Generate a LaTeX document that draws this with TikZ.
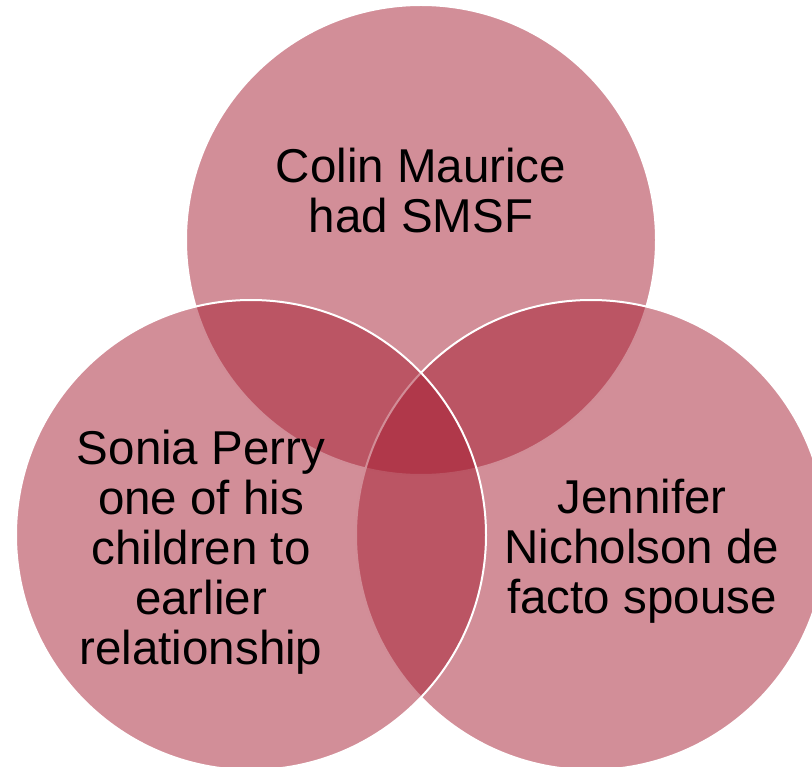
\documentclass[tikz,border=0pt]{standalone}
\usepackage{fontspec}
\setmainfont{Liberation Sans}
\definecolor{venn}{RGB}{165,29,49}
\tikzset{
  vcircle/.style={circle, fill=venn, fill opacity=0.5, draw=white, draw opacity=1, line width=2pt, minimum size=470pt, inner sep=0pt},
  vlabel/.style={align=center, text=black, inner sep=0pt, font=\fontsize{47.5}{50}\selectfont}
}
\begin{document}
\begin{tikzpicture}[x=1pt,y=-1pt]
\useasboundingbox (0,0) rectangle (812,767);
\clip (0,0) rectangle (812,767);
\node[vcircle] (top) at (421,240) {};
\node[vcircle] (right) at (591,535) {};
\node[vcircle] (left) at (251,535) {};
\node[vlabel] (ttop) at (421,191) {Colin Maurice\\had SMSF};
\node[vlabel] (tleft) at (201,552) {Sonia Perry\\one of his\\children to\\earlier\\relationship};
\node[vlabel] (tright) at (642,551) {Jennifer\\Nicholson de\\facto spouse};
\end{tikzpicture}
\end{document}
